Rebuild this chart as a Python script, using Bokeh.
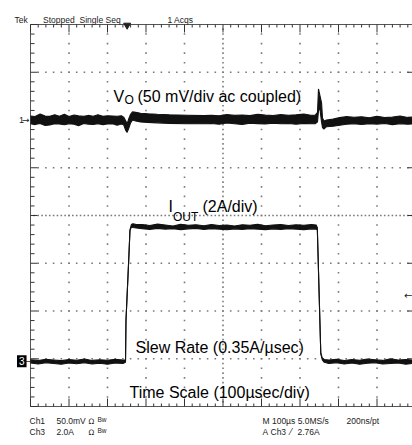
from bokeh.plotting import figure
from bokeh.models import Label, Range1d, ColumnDataSource
from bokeh.embed import file_html
from bokeh.resources import INLINE

# ---------------- data ----------------
# time axis: 100 us/div, 10 divisions
time_per_div = 100.0
n_div_x = 10
n_div_y = 8
ch1_pos = 6.0      # Ch1 ground marker (div from bottom)
ch3_pos = 0.95     # Ch3 ground marker (div from bottom)
ch1_scale = 50.0   # mV/div
ch3_scale = 2.0    # A/div
trigger_t = 251.0  # us
trigger_level = 2.76  # A

# V_O noise envelope (mV, ac coupled)
vo_t = [0, 12, 25, 38, 50, 63, 75, 88, 100, 113, 125, 138, 150, 163, 175, 188, 200, 213, 225, 236,
        242, 247.5, 251, 255, 260, 265, 273, 286, 305, 329, 360, 407, 450,
        470, 490, 510, 530, 550, 570, 590, 610, 630, 650, 670, 690, 710, 728,
        739.4, 745.5, 748, 751.5, 756, 758.4, 762, 769, 786, 803, 821,
        840, 860, 880, 900, 920, 940, 960, 980, 995]
vo_lo = [-4.0, -4.8, -3.6, -5.8, -5.2, -3.8, -4.2, -4.9, -3.9, -4.5, -6.0, -3.7, -4.3, -4.6, -3.9, -4.8, -4.1, -3.8, -5.4, -4.2,
         -5.0, -11.0, -13.0, -9.0, -3.0, 0.0, -1.0, -2.0, -2.5, -3.0, -3.5, -4.0, -4.0,
         -3.6, -4.4, -3.2, -3.9, -4.6, -3.4, -3.8, -4.2, -3.3, -4.0, -3.6, -4.5, -3.5, -3.9,
         -4.0, -2.0, 10.0, 12.0, -2.0, -8.0, -9.5, -7.0, -6.5, -5.5, -4.5,
         -4.0, -4.6, -3.8, -4.3, -3.6, -4.8, -4.0, -4.4, -4.1]
vo_hi = [4.2, 3.6, 6.2, 4.1, 3.8, 5.6, 4.0, 6.0, 3.7, 5.2, 4.3, 3.9, 4.8, 4.0, 5.4, 3.8, 4.5, 4.2, 3.9, 4.4,
         3.0, -1.0, -4.0, 1.0, 6.0, 8.5, 8.0, 7.0, 6.5, 6.0, 5.5, 5.0, 4.6,
         5.0, 4.4, 5.8, 4.8, 5.3, 4.6, 6.0, 5.1, 4.7, 5.6, 4.9, 5.4, 6.2, 5.0,
         5.0, 8.0, 32.5, 26.0, 18.0, 2.0, -1.0, 0.0, 1.0, 2.5, 3.5,
         2.8, 3.4, 2.4, 3.8, 2.6, 3.0, 4.2, 2.7, 3.1]

# I_OUT envelope (A)
io_t = [0, 20, 40, 60, 80, 100, 120, 140, 160, 180, 200, 220, 240,
        246.8, 248, 255, 258.4, 262, 266, 275,
        290, 310, 330, 350, 370, 390, 410, 430, 450, 470, 490, 510, 530, 550, 570, 590,
        610, 630, 650, 670, 690, 710, 730, 742,
        745, 754, 758, 763,
        775, 795, 815, 835, 855, 875, 895, 915, 935, 955, 975, 995]
io_lo = [-0.08, -0.12, -0.07, -0.10, -0.13, -0.08, -0.11, -0.07, -0.12, -0.09, -0.13, -0.08, -0.10,
         -0.05, 1.70, 4.20, 5.47, 5.62, 5.60, 5.58,
         5.55, 5.52, 5.56, 5.53, 5.55, 5.51, 5.54, 5.56, 5.52, 5.55, 5.53, 5.50, 5.54, 5.52, 5.55, 5.53,
         5.51, 5.54, 5.52, 5.55, 5.53, 5.51, 5.54, 5.53,
         5.50, 0.30, 0.05, -0.05,
         -0.10, -0.07, -0.12, -0.08, -0.13, -0.09, -0.07, -0.12, -0.10, -0.08, -0.13, -0.09]
io_hi = [0.06, 0.03, 0.08, 0.05, 0.02, 0.07, 0.04, 0.09, 0.03, 0.06, 0.04, 0.08, 0.05,
         0.05, 1.70, 4.20, 5.50, 5.72, 5.75, 5.72,
         5.72, 5.68, 5.74, 5.70, 5.66, 5.73, 5.69, 5.71, 5.67, 5.72, 5.68, 5.70, 5.66, 5.71, 5.69, 5.73,
         5.67, 5.70, 5.72, 5.68, 5.71, 5.69, 5.72, 5.70,
         5.60, 0.35, 0.12, 0.07,
         0.05, 0.08, 0.03, 0.07, 0.04, 0.09, 0.06, 0.03, 0.10, 0.05, 0.07, 0.04]

# ---------------- layout ----------------
W, H = 412, 445
PX_X = 38.5 / time_per_div   # px per us
PX_Y = 47.75                 # px per div
GX0, GY0 = 30, 406           # graticule origin (left, bottom) in page px


def rx(ref_x):
    return (ref_x - GX0) / PX_X


def ry(ref_y):
    return (GY0 - ref_y) / PX_Y


p = figure(width=W, height=H,
           x_range=Range1d(rx(0), rx(W)), y_range=Range1d(ry(H), ry(0)),
           x_axis_location=None, y_axis_location=None,
           toolbar_location=None, output_backend="svg",
           min_border=0)
p.outline_line_color = None
p.background_fill_color = "white"
p.border_fill_color = "white"
p.grid.visible = False
x_end = rx(W)

# ---------------- graticule ----------------
dot_x, dot_y = [], []
for k in range(1, n_div_x):
    step = 0.1 if k == n_div_x // 2 else 0.2
    for i in range(1, int(round(n_div_y / step))):
        dot_x.append(k * time_per_div)
        dot_y.append(i * step)
for j in range(1, n_div_y):
    step = 10 if j == n_div_y // 2 else 20
    for i in range(1, int(round(n_div_x * time_per_div / step))):
        dot_x.append(i * step)
        dot_y.append(j)
p.scatter(dot_x, dot_y, marker="square", size=1.6, fill_color="#7a7a7a", line_color=None)

# border lines
p.segment(x0=[0, 0, 0], y0=[n_div_y, 0, 0], x1=[x_end, x_end, 0], y1=[n_div_y, 0, n_div_y],
          line_color="#555555", line_width=1)
# border ticks
tx0, ty0, tx1, ty1 = [], [], [], []
for i in range(0, n_div_x * 5 + 1):
    xx = i * time_per_div / 5
    L = 8 if i % 5 == 0 else 3
    tx0 += [xx, xx]
    ty0 += [n_div_y, 0]
    tx1 += [xx, xx]
    ty1 += [n_div_y - L / PX_Y, L / PX_Y]
for i in range(0, n_div_y * 5 + 1):
    yy = i / 5
    L = 7 if i % 5 == 0 else 4
    tx0.append(0)
    ty0.append(yy)
    tx1.append(L / PX_X)
    ty1.append(yy)
for j in range(1, n_div_y):
    tx0.append(x_end - 5 / PX_X)
    ty0.append(j)
    tx1.append(x_end)
    ty1.append(j)
p.segment(x0=tx0, y0=ty0, x1=tx1, y1=ty1, line_color="#333333", line_width=1)

# ---------------- traces ----------------
vo = ColumnDataSource(dict(t=vo_t,
                           lo=[ch1_pos + v / ch1_scale for v in vo_lo],
                           hi=[ch1_pos + v / ch1_scale for v in vo_hi]))
io = ColumnDataSource(dict(t=io_t,
                           lo=[ch3_pos + v / ch3_scale for v in io_lo],
                           hi=[ch3_pos + v / ch3_scale for v in io_hi]))
for src in (vo, io):
    p.varea(x="t", y1="lo", y2="hi", source=src, fill_color="#111111")
    p.line("t", "lo", source=src, line_color="#111111", line_width=1.1)
    p.line("t", "hi", source=src, line_color="#111111", line_width=1.1)

# trigger position marker
p.scatter([trigger_t], [ry(24.7)], marker="inverted_triangle", size=7,
          fill_color="#222222", line_color="#222222")

# ---------------- texts ----------------
SMALL = "Liberation Sans"
BIG = "Liberation Sans"
SYM = "DejaVu Sans"


def lab(text, x, y, size, font=SMALL, color="#222222", align="left", baseline="alphabetic", **kw):
    p.add_layout(Label(x=x, y=y, text=text, text_font=font, text_font_size=size,
                       text_color=color, text_align=align, text_baseline=baseline, **kw))


# header
lab("Tek", rx(14), ry(19.5), "8.5px")
lab("Stopped", rx(42.5), ry(19.5), "8.5px")
lab("Single Seq", rx(79), ry(19.5), "8.5px")
lab("1 Acqs", rx(167), ry(19.5), "8.5px")

# footer
lab("Ch1", rx(29), ry(420.7), "8.5px")
lab("50.0mV", rx(56), ry(420.7), "8.5px")
lab("Ω", rx(88), ry(420.7), "7.5px", font=SYM)
lab("Bw", rx(97), ry(419), "6.5px")
lab("Ch3", rx(29), ry(431.7), "8.5px")
lab("2.0A", rx(56), ry(431.7), "8.5px")
lab("Ω", rx(88), ry(431.7), "7.5px", font=SYM)
lab("Bw", rx(97), ry(430), "6.5px")
lab("M 100µs 5.0MS/s", rx(262), ry(420.7), "8.5px")
lab("200ns/pt", rx(346), ry(420.7), "8.5px")
lab("A", rx(262), ry(431.7), "8.5px")
lab("Ch3", rx(270), ry(431.7), "8.5px")
lab("⁄", rx(289.5), ry(431.7), "8.5px", font=SYM)
lab("2.76A", rx(297), ry(431.7), "8.5px")

# channel markers
lab("1", rx(18.5), ch1_pos, "9px", baseline="middle")
lab("→", rx(21.5), ch1_pos, "9px", font=SYM, baseline="middle")
lab("3", rx(16.5), ch3_pos, "10px", color="white", baseline="middle",
    background_fill_color="black", padding=2)
lab("→", rx(24.5), ch3_pos, "9px", font=SYM, baseline="middle")
lab("←", x_end, ch3_pos + trigger_level / ch3_scale, "10px", font=SYM,
    align="right", baseline="middle")

# annotations
lab("V", rx(113), ry(96), "16px", font=BIG, color="black")
lab("O", rx(124), ry(99.5), "12px", font=BIG, color="black")
lab("(50 mV/div ac coupled)", rx(137), ry(96), "16px", font=BIG, color="black")
lab("I", rx(168), ry(205.6), "16px", font=BIG, color="black")
lab("OUT", rx(172.5), ry(216.5), "12px", font=BIG, color="black")
lab("(2A/div)", rx(202), ry(205.6), "16px", font=BIG, color="black")
lab("Slew Rate (0.35A/µsec)", rx(135), ry(346.5), "16px", font=BIG, color="black")
lab("Time Scale (100µsec/div)", rx(129), ry(391.7), "16px", font=BIG, color="black")

html = file_html(p, INLINE, "Load transient response")
open("out.html", "w").write(html)
